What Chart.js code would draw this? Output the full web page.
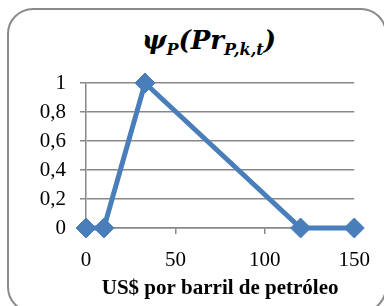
<!DOCTYPE html>
<html>
<head>
<meta charset="utf-8">
<script src="https://cdn.jsdelivr.net/npm/chart.js@4/dist/chart.umd.min.js"></script>
<style>
  html, body { margin: 0; padding: 0; background: #fff; }
  #wrap { position: relative; width: 384px; height: 306px; overflow: hidden; }
  #frame {
    position: absolute; left: 7px; top: 8px; width: 380px; height: 305px;
    border: 2px solid #8a8a8a; border-radius: 26px; box-sizing: border-box;
  }
  #title {
    position: absolute; left: 0; width: 418px; top: 24px; text-align: center;
    font-family: "DejaVu Serif", serif; font-weight: bold; font-style: italic;
    font-size: 26px; color: #000; line-height: 32px; white-space: nowrap;
  }
  #title sub { font-size: 16px; vertical-align: -6px; line-height: 0; }
  canvas { position: absolute; left: 0; top: 0; }
</style>
</head>
<body>
<div id="wrap">
  <div id="frame"></div>
  <div id="title">ψ<sub>P</sub>(Pr<sub>P,k,t</sub>)</div>
  <canvas id="chart" width="384" height="306"></canvas>
</div>
<script>
// precio (US$/barril) y valor de la función
const precios = [0, 10, 33, 120, 150];
const psi = [0, 0, 1, 0, 0];
const xTicks = [0, 50, 100, 150];
const yTicks = [0, 0.2, 0.4, 0.6, 0.8, 1];
const xTitulo = 'US$ por barril de petróleo';

const azul = '#4a7ebb';
const gris = '#888888';

const ctx = document.getElementById('chart');
new Chart(ctx, {
    type: 'scatter',
    data: {
        datasets: [{
            data: precios.map((p, i) => ({ x: p, y: psi[i] })),
            showLine: true,
            borderColor: azul,
            backgroundColor: azul,
            borderWidth: 5,
            pointStyle: 'rectRot',
            pointRadius: 10,
            pointBorderWidth: 1,
            pointBackgroundColor: azul,
            pointBorderColor: azul,
            clip: false,
        }]
    },
    options: {
        responsive: false,
        animation: false,
        layout: { padding: { top: 83, right: 29, left: 0, bottom: 0 } },
        plugins: { legend: { display: false }, tooltip: { enabled: false } },
        scales: {
            x: {
                type: 'linear', min: 0, max: 150,
                afterBuildTicks: s => { s.ticks = xTicks.map(v => ({ value: v })); },
                afterFit: s => { s.height = 78; },
                grid: { drawOnChartArea: false, drawTicks: true, tickLength: 6, color: gris, lineWidth: 1.5 },
                border: { display: true, color: gris, width: 1.5 },
                ticks: { color: '#000', padding: 14, maxRotation: 0,
                         font: { family: 'Liberation Serif', size: 21 } },
                title: { display: true, text: xTitulo, color: '#000', padding: { top: 0, bottom: 5 },
                         font: { family: 'Liberation Serif', size: 21, weight: 'bold' } }
            },
            y: {
                type: 'linear', min: 0, max: 1,
                afterBuildTicks: s => { s.ticks = yTicks.map(v => ({ value: v })); },
                afterFit: s => { s.width = 86; },
                grid: { drawOnChartArea: true, drawTicks: true, tickLength: 6, color: gris, lineWidth: 1.5 },
                border: { display: true, color: gris, width: 1.5 },
                ticks: { color: '#000', padding: 14,
                         font: { family: 'Liberation Serif', size: 21 },
                         callback: v => String(v).replace('.', ',') }
            }
        }
    }
});
</script>
</body>
</html>
